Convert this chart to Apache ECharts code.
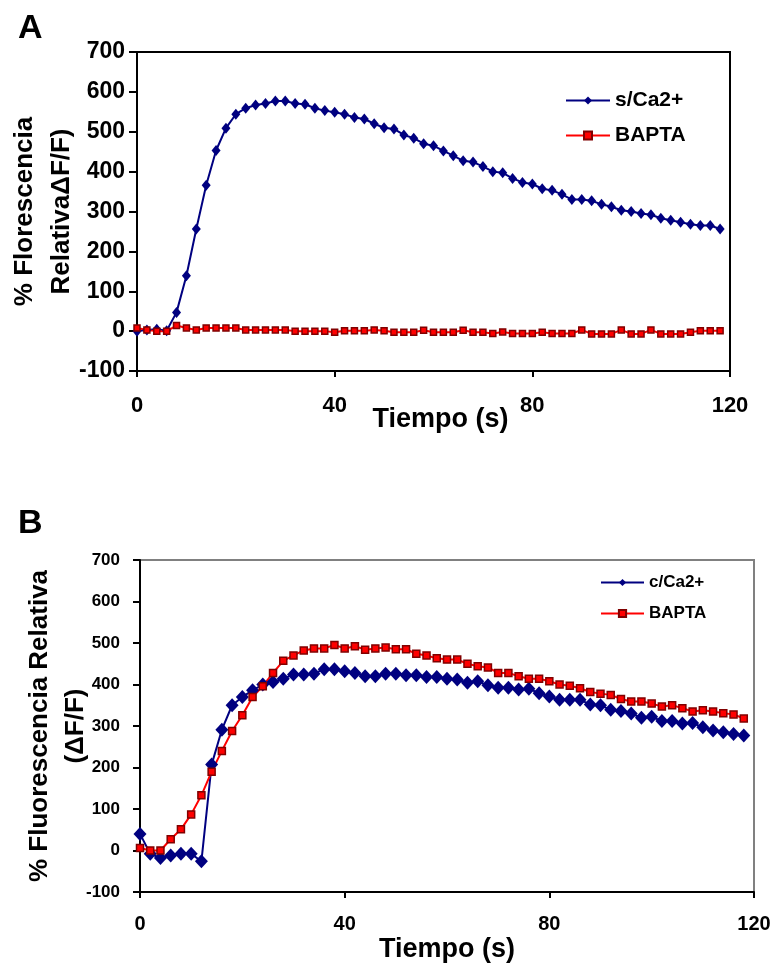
<!DOCTYPE html>
<html>
<head>
<meta charset="utf-8">
<script src="https://cdn.jsdelivr.net/npm/echarts@6/dist/echarts.min.js"></script>
<style>
  html, body { margin: 0; padding: 0; background: #fff; }
  #chart { width: 778px; height: 971px; }
</style>
</head>
<body>
<div id="chart"></div>
<script>
// tiempo (s), mismo muestreo en ambos paneles
var tiempo = [0, 2, 4, 6, 8, 10, 12, 14, 16, 18, 20, 22, 24, 26, 28, 30, 32, 34, 36, 38,
  40, 42, 44, 46, 48, 50, 52, 54, 56, 58, 60, 62, 64, 66, 68, 70, 72, 74, 76, 78,
  80, 82, 84, 86, 88, 90, 92, 94, 96, 98, 100, 102, 104, 106, 108, 110, 112, 114, 116, 118];

// panel A
var aSinCa = [0, 3, 5, 1, 47, 139, 256, 366, 453, 509, 544, 559, 567, 571, 577, 577, 571, 569, 559, 553,
  549, 544, 536, 532, 520, 510, 507, 492, 484, 470, 465, 452, 440, 427, 424, 413, 400, 397, 383, 373,
  369, 357, 353, 343, 330, 330, 327, 318, 312, 303, 300, 295, 292, 283, 278, 273, 268, 265, 265, 256];
var aBapta = [8, 3, 0, 0, 14, 8, 3, 8, 8, 8, 8, 3, 3, 3, 3, 3, 0, 0, 0, 0,
  -3, 1, 1, 1, 3, 1, -3, -3, -3, 2, -3, -3, -3, 2, -3, -3, -6, -2, -6, -6,
  -6, -3, -6, -6, -6, 3, -7, -7, -7, 3, -7, -7, 3, -7, -7, -7, -3, 1, 1, 1];

// panel B
var bConCa = [40, -8, -18, -12, -8, -8, -26, 207, 291, 350, 370, 386, 400, 406, 414, 424, 424, 426, 437, 437,
  432, 428, 420, 420, 426, 426, 422, 422, 418, 418, 414, 412, 404, 408, 398, 392, 392, 388, 390, 379,
  371, 363, 363, 363, 352, 350, 339, 336, 330, 320, 322, 312, 312, 306, 307, 297, 289, 285, 281, 277];
var bBapta = [6, 0, 0, 27, 51, 87, 133, 190, 240, 288, 326, 370, 396, 428, 457, 470, 482, 487, 487, 495,
  487, 492, 484, 487, 489, 485, 485, 474, 470, 463, 460, 460, 450, 444, 441, 428, 428, 420, 414, 414,
  408, 400, 397, 391, 382, 378, 375, 365, 359, 359, 354, 347, 350, 343, 335, 338, 335, 331, 328, 318];

function pares(vals) {
  return tiempo.map(function (t, i) { return [t, vals[i]]; });
}

var fuente = "'Liberation Sans', Arial, sans-serif";
var chart = echarts.init(document.getElementById("chart"));

chart.setOption({
  animation: false,
  backgroundColor: "#fff",
  textStyle: { fontFamily: fuente },
  title: [
    { text: "A", left: 13, top: 7, textStyle: { fontSize: 34, fontWeight: "bold", color: "#000", fontFamily: fuente } },
    { text: "B", left: 13, top: 502, textStyle: { fontSize: 34, fontWeight: "bold", color: "#000", fontFamily: fuente } },
  ],
  grid: [
    { left: 137, top: 52, width: 593, height: 319, outerBoundsMode: "none", containLabel: false,
      show: true, borderColor: "#000", borderWidth: 2, backgroundColor: "#fff" },
    { left: 140, top: 560, width: 614, height: 332, outerBoundsMode: "none", containLabel: false,
      show: true, borderColor: "#808080", borderWidth: 2, backgroundColor: "#fff" },
  ],
  legend: [
    {
      data: ["s/Ca2+", "BAPTA"],
      orient: "vertical",
      left: 565,
      top: 90,
      padding: 0,
      itemWidth: 44,
      itemHeight: 10,
      itemGap: 14,
      textStyle: { fontSize: 21, fontWeight: "bold", color: "#000", fontFamily: fuente },
    },
    {
      data: ["c/Ca2+", "BAPTA"],
      orient: "vertical",
      left: 600,
      top: 574,
      padding: 0,
      itemWidth: 43,
      itemHeight: 9,
      itemGap: 14,
      textStyle: { fontSize: 17, fontWeight: "bold", color: "#000", fontFamily: fuente },
    },
  ],
  xAxis: [
    {
      gridIndex: 0,
      type: "value",
      min: 0,
      max: 120,
      interval: 40,
      name: "Tiempo (s)",
      nameLocation: "middle",
      nameGap: 35,
      nameMoveOverlap: false,
      nameTextStyle: { fontSize: 27, fontWeight: "bold", color: "#000", padding: [0, 0, 0, 14] },
      axisLine: { onZero: false, lineStyle: { color: "#000", width: 2 } },
      axisTick: { length: 6, lineStyle: { color: "#000", width: 2 } },
      axisLabel: { margin: 24, fontSize: 22, fontWeight: "bold", color: "#000" },
      splitLine: { show: false },
    },
    {
      gridIndex: 1,
      type: "value",
      min: 0,
      max: 120,
      interval: 40,
      name: "Tiempo (s)",
      nameLocation: "middle",
      nameGap: 44,
      nameMoveOverlap: false,
      nameTextStyle: { fontSize: 27, fontWeight: "bold", color: "#000" },
      axisLine: { onZero: false, lineStyle: { color: "#000", width: 2 } },
      axisTick: { length: 6, lineStyle: { color: "#000", width: 2 } },
      axisLabel: { margin: 22, fontSize: 20, fontWeight: "bold", color: "#000" },
      splitLine: { show: false },
    },
  ],
  yAxis: [
    {
      gridIndex: 0,
      type: "value",
      min: -100,
      max: 700,
      interval: 100,
      name: "% Florescencia\nRelativa\u0394F/F)",
      nameLocation: "middle",
      nameRotate: 90,
      nameGap: 57,
      nameMoveOverlap: false,
      nameTextStyle: { fontSize: 26, fontWeight: "bold", color: "#000", lineHeight: 37 },
      axisLine: { onZero: false, lineStyle: { color: "#000", width: 2 } },
      axisTick: { length: 8, lineStyle: { color: "#000", width: 2 } },
      axisLabel: { margin: 12, fontSize: 23, fontWeight: "bold", color: "#000" },
      splitLine: { show: false },
    },
    {
      gridIndex: 1,
      type: "value",
      min: -100,
      max: 700,
      interval: 100,
      name: "% Fluorescencia Relativa\n(\u0394F/F)",
      nameLocation: "middle",
      nameRotate: 90,
      nameGap: 46,
      nameMoveOverlap: false,
      nameTextStyle: { fontSize: 26, fontWeight: "bold", color: "#000", lineHeight: 36 },
      axisLine: { onZero: false, lineStyle: { color: "#000", width: 2 } },
      axisTick: { length: 7, lineStyle: { color: "#000", width: 2 } },
      axisLabel: { margin: 20, fontSize: 17, fontWeight: "bold", color: "#000" },
      splitLine: { show: false },
    },
  ],
  series: [
    {
      name: "s/Ca2+",
      type: "line",
      xAxisIndex: 0,
      yAxisIndex: 0,
      data: pares(aSinCa),
      symbol: "diamond",
      symbolSize: [9, 11],
      lineStyle: { color: "#000080", width: 2 },
      itemStyle: { color: "#000080" },
    },
    {
      name: "BAPTA",
      type: "line",
      xAxisIndex: 0,
      yAxisIndex: 0,
      data: pares(aBapta),
      symbol: "rect",
      symbolSize: 6,
      lineStyle: { color: "#ff0000", width: 2 },
      itemStyle: { color: "#ff0000", borderColor: "#800000", borderWidth: 1.5 },
    },
    {
      name: "c/Ca2+",
      type: "line",
      xAxisIndex: 1,
      yAxisIndex: 1,
      data: pares(bConCa),
      symbol: "diamond",
      symbolSize: [13, 14],
      lineStyle: { color: "#000080", width: 2 },
      itemStyle: { color: "#000080" },
    },
    {
      name: "BAPTA",
      type: "line",
      xAxisIndex: 1,
      yAxisIndex: 1,
      data: pares(bBapta),
      symbol: "rect",
      symbolSize: 7,
      lineStyle: { color: "#ff0000", width: 2 },
      itemStyle: { color: "#ff0000", borderColor: "#800000", borderWidth: 1.5 },
    },
  ],
});
</script>
</body>
</html>
